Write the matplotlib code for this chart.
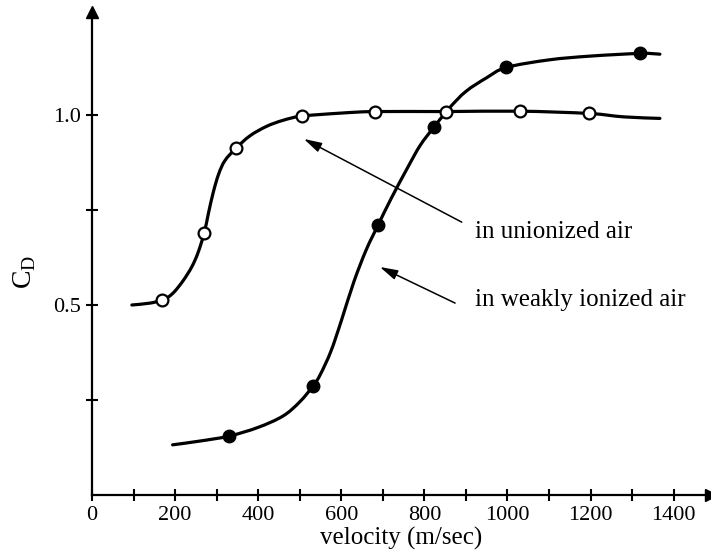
import matplotlib
matplotlib.use("Agg")
import matplotlib.pyplot as plt
from matplotlib.path import Path
from matplotlib.patches import PathPatch

plt.rcParams['font.family'] = ['Liberation Serif', 'DejaVu Serif']
plt.rcParams['mathtext.fontset'] = 'custom'
plt.rcParams['mathtext.rm'] = 'Liberation Serif'

# measured points (open circles: unionized air)
un_x = [169, 270, 346, 505, 681, 852, 1030, 1196]
un_y = [0.513, 0.689, 0.912, 0.997, 1.009, 1.009, 1.010, 1.004]
# curve traced through the unionized points
un_curve_x = [96, 140, 169, 185, 200, 220, 240, 255, 270, 280, 292, 305, 320, 346, 380, 420, 460, 505, 600, 681, 852, 1030, 1196, 1280, 1367]
un_curve_y = [0.500, 0.505, 0.513, 0.522, 0.537, 0.565, 0.600, 0.637, 0.689, 0.740, 0.797, 0.845, 0.880, 0.912, 0.945, 0.970, 0.986, 0.997, 1.005, 1.009, 1.009, 1.010, 1.004, 0.995, 0.991]

# measured points (filled circles: weakly ionized air)
io_x = [330, 533, 689, 823, 997, 1320]
io_y = [0.155, 0.288, 0.711, 0.968, 1.125, 1.162]
io_curve_x = [194, 260, 330, 400, 460, 500, 533, 550, 575, 600, 630, 660, 689, 720, 760, 790, 823, 860, 900, 950, 997, 1100, 1200, 1320, 1367]
io_curve_y = [0.132, 0.142, 0.155, 0.178, 0.208, 0.245, 0.288, 0.318, 0.378, 0.458, 0.560, 0.645, 0.711, 0.780, 0.862, 0.920, 0.968, 1.018, 1.062, 1.098, 1.125, 1.145, 1.155, 1.162, 1.160]

x_ticks = [0, 200, 400, 600, 800, 1000, 1200, 1400]
x_minor = [100, 300, 500, 700, 900, 1100, 1300]
y_ticks = [0.5, 1.0]
y_minor = [0.25, 0.75]


def smooth_path(xs, ys):
    """Catmull-Rom curve through the traced points, as cubic Bezier segments."""
    pts = list(zip(xs, ys))
    verts = [pts[0]]
    codes = [Path.MOVETO]
    n = len(pts)
    for i in range(n - 1):
        p0 = pts[i - 1] if i > 0 else pts[i]
        p1 = pts[i]
        p2 = pts[i + 1]
        p3 = pts[i + 2] if i + 2 < n else pts[i + 1]
        c1 = (p1[0] + (p2[0] - p0[0]) / 6.0, p1[1] + (p2[1] - p0[1]) / 6.0)
        c2 = (p2[0] - (p3[0] - p1[0]) / 6.0, p2[1] - (p3[1] - p1[1]) / 6.0)
        verts += [c1, c2, p2]
        codes += [Path.CURVE4] * 3
    return Path(verts, codes)


fig = plt.figure(figsize=(7.11, 5.6), dpi=100)
ax = fig.add_axes([92/711, 65/560, 619/711, 483/560])
ax.set_xlim(0, 1490)
ax.set_ylim(0, 1.271)

for cx, cy in [(un_curve_x, un_curve_y), (io_curve_x, io_curve_y)]:
    ax.add_patch(PathPatch(smooth_path(cx, cy), facecolor='none', edgecolor='black',
                           lw=2.3, capstyle='round', zorder=2))
ax.plot(un_x, un_y, 'o', ms=8.5, mfc='white', mec='black', mew=1.6, zorder=3)
ax.plot(io_x, io_y, 'o', ms=9, mfc='black', mec='black', zorder=3)

for s in ['top', 'right']:
    ax.spines[s].set_visible(False)
for s in ['left', 'bottom']:
    ax.spines[s].set_linewidth(1.6)

ax.set_xticks(x_ticks)
ax.set_xticklabels([str(v) for v in x_ticks], fontsize=16)
ax.set_xticks(x_minor, minor=True)
ax.set_yticks(y_ticks)
ax.set_yticklabels(['0.5', '1.0'], fontsize=16)
ax.set_yticks(y_minor, minor=True)
ax.tick_params(which='both', direction='inout', length=8, width=1.5, pad=4)

# axis arrows
ax.plot([1], [0], marker='>', ms=9, color='black', transform=ax.transAxes, clip_on=False)
ax.plot([0], [1], marker='^', ms=9, color='black', transform=ax.transAxes, clip_on=False)

ax.set_xlabel('velocity (m/sec)', fontsize=18, labelpad=1)
fig.text(25/711, 1 - 272/560, r'$\mathrm{C}_{\mathrm{D}}$', rotation=90, fontsize=20,
         ha='center', va='center')

arrow_style = '-|>,head_length=0.9,head_width=0.25'
ax.annotate('', xy=(510, 0.937), xytext=(890, 0.718),
            arrowprops=dict(arrowstyle=arrow_style, color='black', lw=1.1, mutation_scale=12,
                            shrinkA=0, shrinkB=0))
ax.annotate('', xy=(693, 0.600), xytext=(874, 0.505),
            arrowprops=dict(arrowstyle=arrow_style, color='black', lw=1.1, mutation_scale=12,
                            shrinkA=0, shrinkB=0))
ax.text(922, 0.692, 'in unionized air', fontsize=18, va='center', ha='left')
ax.text(922, 0.513, 'in weakly ionized air', fontsize=18, va='center', ha='left')

fig.savefig('out.png', dpi=100)
